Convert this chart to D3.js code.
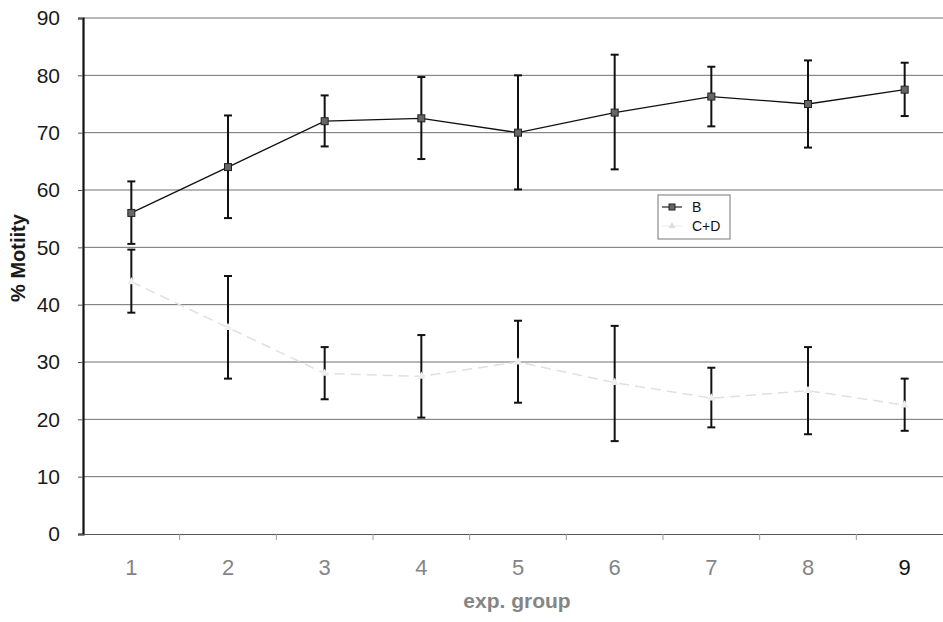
<!DOCTYPE html>
<html>
<head>
<meta charset="utf-8">
<script src="https://cdn.jsdelivr.net/npm/d3@7"></script>
<style>
  body { margin: 0; background: #fff; }
  svg { display: block; }
</style>
</head>
<body>
<svg id="chart" width="943" height="622"></svg>
<script>
  // groups on the x axis
  const groups = [1, 2, 3, 4, 5, 6, 7, 8, 9];
  const yTicks = [0, 10, 20, 30, 40, 50, 60, 70, 80, 90];

  // series B: mean and error bar ends
  const bMean = [56, 64, 72, 72.5, 70, 73.5, 76.3, 75, 77.5];
  const bHigh = [61.5, 73, 76.5, 79.7, 80, 83.6, 81.5, 82.6, 82.2];
  const bLow  = [50.6, 55.1, 67.6, 65.4, 60.1, 63.6, 71.1, 67.4, 72.9];

  // series C+D
  const cdMean = [44, 36, 28, 27.5, 30, 26.4, 23.7, 25, 22.5];
  const cdHigh = [49.6, 45, 32.6, 34.7, 37.2, 36.3, 29, 32.6, 27.1];
  const cdLow  = [38.6, 27.1, 23.5, 20.3, 22.9, 16.2, 18.6, 17.4, 18];

  const svg = d3.select("#chart");
  const m = { left: 83, right: 953, top: 18, bottom: 534 };

  const x = d3.scaleBand().domain(groups).range([m.left, m.right]);
  const y = d3.scaleLinear().domain([0, 90]).range([m.bottom, m.top]);
  const cx = g => x(g) + x.bandwidth() / 2;

  // horizontal grid
  svg.append("g")
    .selectAll("line")
    .data(yTicks.filter(t => t > 0))
    .join("line")
    .attr("x1", m.left).attr("x2", 943)
    .attr("y1", d => y(d)).attr("y2", d => y(d))
    .attr("stroke", "#707070")
    .attr("stroke-width", 1);

  // y axis
  const yAxis = svg.append("g")
    .attr("transform", `translate(${m.left},0)`)
    .call(d3.axisLeft(y).tickValues(yTicks).tickSize(5).tickPadding(18));
  yAxis.select(".domain").attr("stroke", "#111").attr("stroke-width", 2.2);
  yAxis.selectAll(".tick line").attr("stroke", "#555");
  yAxis.selectAll("text")
    .attr("font-family", "Liberation Sans, Arial, sans-serif")
    .attr("font-size", 21)
    .attr("fill", "#1a1a1a");

  // x axis: baseline plus ticks between the groups
  const xAxis = svg.append("g")
    .attr("transform", `translate(0,${m.bottom})`)
    .call(d3.axisBottom(x).tickSize(0).tickPadding(25));
  xAxis.select(".domain").attr("stroke", "#555").attr("stroke-width", 1.2);
  xAxis.selectAll("text")
    .attr("font-family", "Liberation Sans, Arial, sans-serif")
    .attr("font-size", 22)
    .attr("fill", d => d === 9 ? "#111" : "#858585");
  svg.append("g")
    .selectAll("line")
    .data(groups.slice(1))
    .join("line")
    .attr("x1", d => x(d)).attr("x2", d => x(d))
    .attr("y1", m.bottom).attr("y2", m.bottom + 6)
    .attr("stroke", "#999");

  // axis titles
  svg.append("text")
    .attr("transform", `translate(25,258) rotate(-90)`)
    .attr("text-anchor", "middle")
    .attr("font-family", "Liberation Sans, Arial, sans-serif")
    .attr("font-weight", "bold")
    .attr("font-size", 20)
    .attr("fill", "#1a1a1a")
    .text("% Motiity");

  svg.append("text")
    .attr("x", 517).attr("y", 608)
    .attr("text-anchor", "middle")
    .attr("font-family", "Liberation Sans, Arial, sans-serif")
    .attr("font-weight", "bold")
    .attr("font-size", 21)
    .attr("fill", "#858585")
    .text("exp. group");

  // C+D series: faint line and marks
  const cdLine = d3.line().x((d, i) => cx(groups[i])).y(d => y(d));
  svg.append("path")
    .attr("d", cdLine(cdMean))
    .attr("fill", "none")
    .attr("stroke", "#e0e0e0")
    .attr("stroke-width", 1.5)
    .attr("stroke-dasharray", "10,6");

  // error bars
  function errorBars(hi, lo) {
    const g = svg.append("g").attr("stroke", "#111").attr("stroke-width", 2);
    groups.forEach((grp, i) => {
      const xx = cx(grp);
      g.append("line").attr("x1", xx).attr("x2", xx).attr("y1", y(hi[i])).attr("y2", y(lo[i]));
      g.append("line").attr("x1", xx - 4).attr("x2", xx + 4).attr("y1", y(hi[i])).attr("y2", y(hi[i]));
      g.append("line").attr("x1", xx - 4).attr("x2", xx + 4).attr("y1", y(lo[i])).attr("y2", y(lo[i]));
    });
  }
  errorBars(cdHigh, cdLow);
  errorBars(bHigh, bLow);

  svg.append("g")
    .selectAll("path")
    .data(cdMean)
    .join("path")
    .attr("d", d3.symbol(d3.symbolTriangle, 30))
    .attr("transform", (d, i) => `translate(${cx(groups[i])},${y(d)})`)
    .attr("fill", "#eeeeee");

  // B series
  const bLine = d3.line().x((d, i) => cx(groups[i])).y(d => y(d));
  svg.append("path")
    .attr("d", bLine(bMean))
    .attr("fill", "none")
    .attr("stroke", "#111")
    .attr("stroke-width", 1.3);

  svg.append("g")
    .selectAll("rect")
    .data(bMean)
    .join("rect")
    .attr("x", (d, i) => cx(groups[i]) - 3.5)
    .attr("y", d => y(d) - 3.5)
    .attr("width", 7).attr("height", 7)
    .attr("fill", "#666")
    .attr("stroke", "#222")
    .attr("stroke-width", 1);

  // legend
  const leg = svg.append("g").attr("transform", "translate(658,195)");
  leg.append("rect")
    .attr("width", 72).attr("height", 44)
    .attr("fill", "#fff")
    .attr("stroke", "#777");
  leg.append("line").attr("x1", 4).attr("x2", 24).attr("y1", 12).attr("y2", 12)
    .attr("stroke", "#222").attr("stroke-width", 1.2);
  leg.append("rect").attr("x", 11).attr("y", 9).attr("width", 6).attr("height", 6)
    .attr("fill", "#666").attr("stroke", "#222");
  leg.append("line").attr("x1", 4).attr("x2", 24).attr("y1", 31).attr("y2", 31)
    .attr("stroke", "#eee").attr("stroke-width", 1.2);
  leg.append("path").attr("d", d3.symbol(d3.symbolTriangle, 20))
    .attr("transform", "translate(14,31)").attr("fill", "#ddd");
  leg.selectAll("text.lab")
    .data(["B", "C+D"])
    .join("text")
    .attr("class", "lab")
    .attr("x", 34)
    .attr("y", (d, i) => 17 + i * 19)
    .attr("font-family", "Liberation Sans, Arial, sans-serif")
    .attr("font-size", 14)
    .attr("fill", "#111")
    .text(d => d);
</script>
</body>
</html>
